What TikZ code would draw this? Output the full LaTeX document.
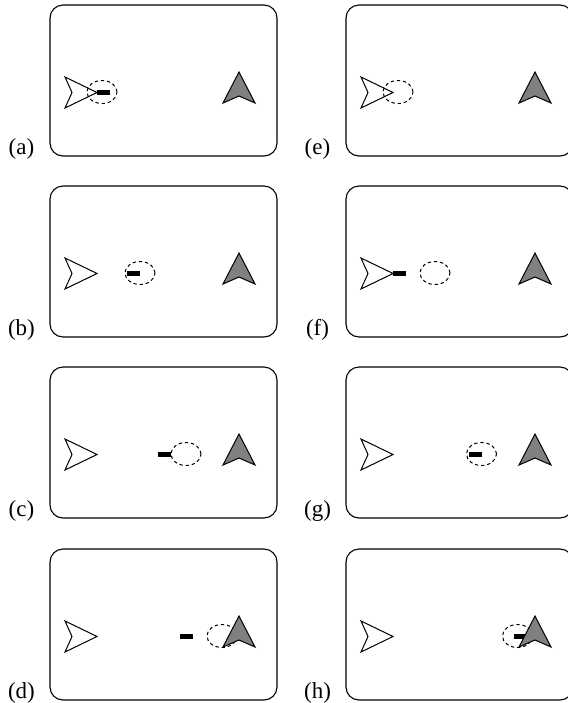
\documentclass[tikz,border=0pt]{standalone}
\usepackage{fontspec}
\setmainfont{Liberation Serif}

\begin{document}
\begin{tikzpicture}[
    x=0.5pt, y=-0.5pt,
    board/.style = {draw, line width=0.55pt, rounded corners=6.5pt},
    seeker/.style = {draw, fill=white, line width=0.5pt, line join=miter},
    target/.style = {draw, fill=gray, line width=0.5pt, line join=miter},
    zone/.style = {draw, dash pattern=on 1.7pt off 1.4pt, line width=0.5pt},
    token/.style = {fill=black},
    tag/.style = {anchor=base, font=\fontsize{11.5}{14}\selectfont}
]
\useasboundingbox (0,0) rectangle (568,703);
\clip (0,0) rectangle (568,703);

% frames, labels, left arrows and dashed zones
\foreach \lab/\px/\py/\ex in {a/50/5/52, b/50/186/90, c/50/367/136, d/50/549/172,
                              e/346/5/52, f/346/186/89, g/346/367/135.5, h/346/549/171.5} {
  \draw[board] (\px,\py) rectangle ({\px+227},{\py+151});
  \node[tag] (tag-\lab) at ({\px-28.5},{\py+149}) {(\lab)};
  \draw[seeker] ({\px+47},{\py+87.5}) -- ({\px+15},{\py+72}) -- ({\px+22},{\py+87.5})
                -- ({\px+15},{\py+103}) -- cycle;
  \draw[zone] ({\px+\ex},{\py+87}) ellipse [x radius=7.5pt, y radius=5.75pt];
}

% black bars
\foreach \px/\py/\bx in {50/5/53.5, 50/186/83, 50/367/114, 50/549/136,
                         346/186/53, 346/367/129, 346/549/174.5} {
  \fill[token] ({\px+\bx-6.5},{\py+84.5}) rectangle +(13,5.5);
}

% grey arrows
\foreach \px/\py in {50/5, 50/186, 50/367, 50/549, 346/5, 346/186, 346/367, 346/549} {
  \draw[target] ({\px+189},{\py+67}) -- ({\px+205},{\py+98}) -- ({\px+189},{\py+91})
                -- ({\px+173},{\py+98}) -- cycle;
}

\end{tikzpicture}
\end{document}
